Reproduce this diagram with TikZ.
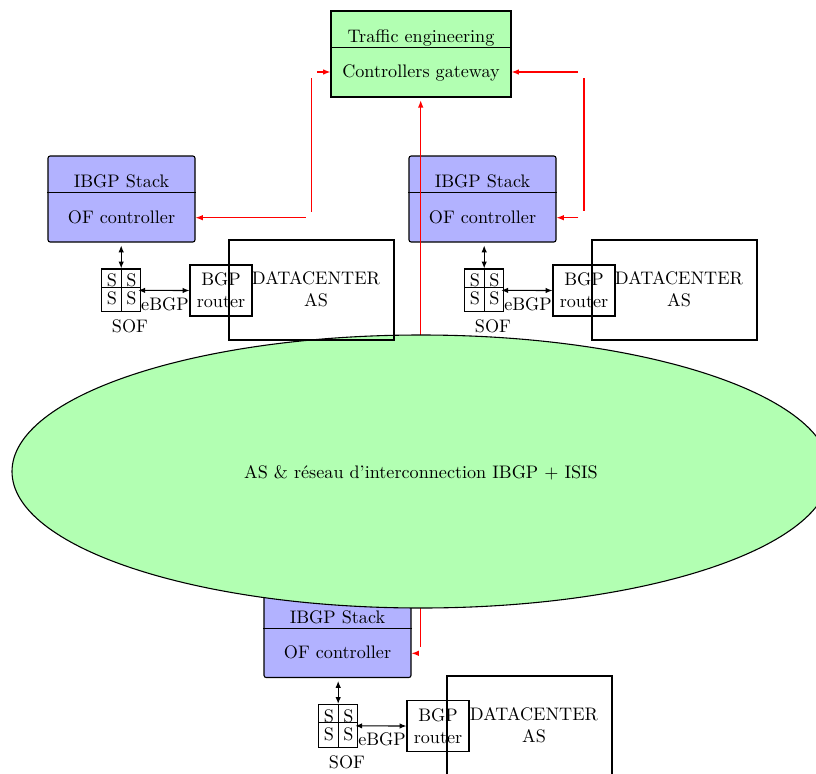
\documentclass[tikz,border=0pt]{standalone}
\usetikzlibrary{arrows.meta,calc,shapes.geometric}
\definecolor{gwgreen}{RGB}{178,255,178}
\definecolor{stkblue}{RGB}{178,178,255}
\tikzset{
  box/.style={draw, inner sep=0pt, anchor=center},
  part/.style={inner sep=0pt, anchor=center},
  lbl/.style={inner sep=0pt, anchor=base},
  redarrow/.style={red, -{Latex[length=4pt,width=3pt]}},
  redline/.style={red},
  blackarrow/.style={{Latex[length=3.8pt,width=3pt]}-{Latex[length=3.8pt,width=3pt]}},
}
% #1 prefix, #2 dx of stack, #3 dx of the rest, #4 dy
\newcommand{\mygroup}[4]{%
  \node[box, fill=stkblue, rounded corners=1.2pt, minimum width=147*0.5511pt, minimum height=86*0.5511pt] (#1stack) at ({121.5+#2},{199+#4}) {};
  \node[part, minimum width=147*0.5511pt, minimum height=36*0.5511pt] (#1top) at ({121.5+#2},{174+#4}) {};
  \node[part, minimum width=147*0.5511pt, minimum height=50*0.5511pt] (#1ctrl) at ({121.5+#2},{217+#4}) {};
  \draw (#1top.south west) -- (#1top.south east);
  \node[lbl] (#1ibgp) at ({121.5+#2},{187.7+#4}) {IBGP Stack};
  \node[lbl] (#1of) at ({121.5+#2},{223.3+#4}) {OF controller};
  \node[box, minimum width=39*0.5511pt, minimum height=42.7*0.5511pt] (#1sof) at ({121.2+#3},{290.35+#4}) {};
  \draw (#1sof.north) -- (#1sof.south);
  \draw ($(#1sof.west)+(0,-3.05)$) -- ($(#1sof.east)+(0,-3.05)$);
  \node[part] (#1s1) at ({112+#3},{280.3+#4}) {S};
  \node[part] (#1s2) at ({131.3+#3},{280.3+#4}) {S};
  \node[part] (#1s3) at ({112+#3},{298.5+#4}) {S};
  \node[part] (#1s4) at ({131.3+#3},{298.5+#4}) {S};
  \node[box, align=center, minimum width=62*0.5511pt, minimum height=51*0.5511pt] (#1rtr) at ({221+#3},{290.5+#4}) {BGP\\router};
  \draw[blackarrow, shorten <=1.6pt] (#1sof.north |- #1stack.south) -- (#1sof.north);
  \draw[blackarrow] ($(#1sof.east)+(-3,0)$) -- (#1rtr.west);
  \node[lbl] (#1ebgp) at ({165+#3},{310+#4}) {eBGP};
  \node[lbl] (#1soflbl) at ({130+#3},{332.7+#4}) {SOF};
}
% #1 prefix, #2 dx, #3 dy
\newcommand{\mydc}[3]{%
  \node[box, minimum width=165*0.5511pt, minimum height=100*0.5511pt] (#1dc) at ({311.5+#2},{290+#3}) {};
  \node[part, align=center] (#1dctxt) at ({316+#2},{289.3+#3}) {DATACENTER\\AS};
}
\begin{document}
\begin{tikzpicture}[x=0.5511pt, y=-0.5511pt, line width=0.6pt]
\useasboundingbox (0,0) rectangle (816,774);
% controllers gateway
\node[box, fill=gwgreen, minimum width=180*0.5511pt, minimum height=86*0.5511pt] (gw) at (421,54) {};
\node[part, minimum width=180*0.5511pt, minimum height=36*0.5511pt] (gwtop) at (421,29) {};
\node[part, minimum width=180*0.5511pt, minimum height=50*0.5511pt] (gwlow) at (421,72) {};
\draw (gwtop.south west) -- (gwtop.south east);
\node[lbl] (gwte) at (421,42.7) {Traffic engineering};
\node[lbl] (gwcg) at (421,77.3) {Controllers gateway};
% groups
\mygroup{L}{0}{0}{0}
\mygroup{R}{361}{363}{0}
\mygroup{B}{216}{217}{435.5}
\mydc{B}{218}{436}
% red links
\coordinate (lv1) at (311.7,78);
\coordinate (lv2) at (311.7,211.7);
\coordinate (lh) at (305.7,217.7);
\coordinate (lt) at (317,72);
\draw[redline] (lv1) -- (lv2);
\draw[redarrow] (lh) -- (lh -| Lctrl.east);
\draw[redarrow] (lt) -- (gwlow.west);
\coordinate (rv1) at (584,78);
\coordinate (rv2) at (584,211.3);
\coordinate (rh) at (578.3,217.7);
\coordinate (rt) at (578,72);
\draw[redline] (rv1) -- (rv2);
\draw[redarrow] (rh) -- (rh -| Rctrl.east);
\draw[redarrow] (rt) -- (gwlow.east);
\coordinate (cb) at (420.7,646.7);
\coordinate (bh) at (418.5,653.3);
\draw[redarrow, shorten >=1.5pt] (cb) -- (cb |- gw.south);
\draw[redarrow] (bh) -- (bh -| Bctrl.east);
% interconnection network
\node[draw, ellipse, fill=gwgreen, inner sep=0pt, minimum width=818*0.5511pt, minimum height=273*0.5511pt] (net) at (421,471.5) {};
\node[lbl] (nettxt) at (421,478.5) {AS \& réseau d’interconnection IBGP + ISIS};
% datacenters of the upper groups
\mydc{L}{0}{0}
\mydc{R}{363}{0}
\end{tikzpicture}
\end{document}
